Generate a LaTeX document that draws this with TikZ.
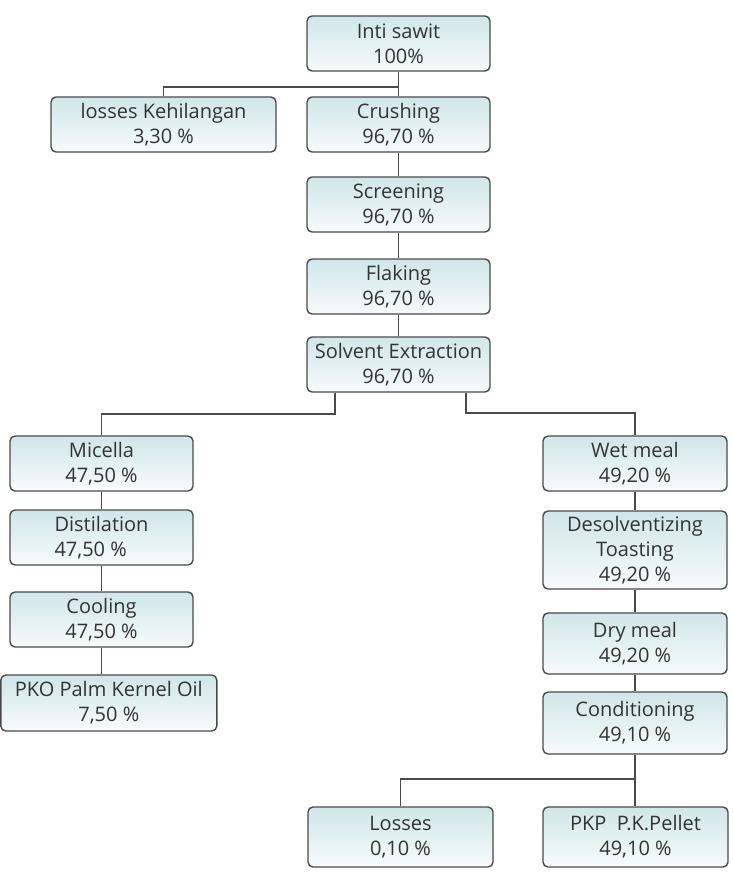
\documentclass[tikz,border=0pt]{standalone}
\usepackage{fontspec}
\setmainfont{Open Sans}
\definecolor{txt}{HTML}{333333}
\definecolor{edge}{HTML}{4A4A4A}
\definecolor{topc}{HTML}{D0E6E8}
\definecolor{botc}{HTML}{F7FBFB}
\tikzset{
  box/.style={draw=edge, line width=1.4pt, rounded corners=5pt,
    top color=topc, bottom color=botc, text=txt, align=center,
    font=\fontsize{20}{25}\selectfont, inner sep=0pt},
  link/.style={draw=edge, line width=1.8pt}
}
\begin{document}
\begin{tikzpicture}[x=1pt,y=-1pt]
\useasboundingbox (0,0) rectangle (733,878);
\node[box, minimum width=183pt, minimum height=55pt] (inti) at (398.5,43.5) {Inti sawit\\100\%};
\node[box, minimum width=225pt, minimum height=55pt] (loss1) at (163.5,124.5) {losses Kehilangan\\3,30 \%};
\node[box, minimum width=183pt, minimum height=55pt] (crush) at (398.5,124.5) {Crushing\\96,70 \%};
\node[box, minimum width=183pt, minimum height=55pt] (screen) at (398.5,204.5) {Screening\\96,70 \%};
\node[box, minimum width=183pt, minimum height=55pt] (flake) at (398.5,286.5) {Flaking\\96,70 \%};
\node[box, minimum width=183pt, minimum height=55pt] (solvent) at (398.5,364.5) {Solvent Extraction\\96,70 \%};
\node[box, minimum width=183pt, minimum height=55pt] (micella) at (101.5,463.5) {Micella\\47,50 \%};
\node[box, minimum width=183pt, minimum height=55pt, align=left] (distil) at (101.5,537.5) {Distilation\\47,50 \%};
\node[box, minimum width=183pt, minimum height=55pt] (cool) at (101.5,619.5) {Cooling\\47,50 \%};
\node[box, minimum width=216pt, minimum height=56pt] (pko) at (108.8,703) {PKO Palm Kernel Oil\\7,50 \%};
\node[box, minimum width=184pt, minimum height=55pt] (wet) at (635,463.5) {Wet meal\\49,20 \%};
\node[box, minimum width=184pt, minimum height=78pt] (desolv) at (635,550) {Desolventizing\\Toasting\\49,20 \%};
\node[box, minimum width=184pt, minimum height=61pt] (dry) at (635,643.5) {Dry meal\\49,20 \%};
\node[box, minimum width=184pt, minimum height=62pt] (cond) at (635,723) {Conditioning\\49,10 \%};
\node[box, minimum width=185pt, minimum height=60pt] (losses) at (400.5,837) {Losses\\0,10 \%};
\node[box, minimum width=185pt, minimum height=60pt] (pkp) at (635.5,837) {PKP\ \ P.K.Pellet\\49,10 \%};
\draw[link] (inti.south) -- ++(0,-15pt) -| (loss1.north);
\draw[link] (inti.south) -- (crush.north);
\draw[link] (crush.south) -- (screen.north);
\draw[link] (screen.south) -- (flake.north);
\draw[link] (flake.south) -- (solvent.north);
\draw[link] ([xshift=-63.5pt]solvent.south) -- ++(0,-21pt) -| (micella.north);
\draw[link] ([xshift=67.5pt]solvent.south) -- ++(0,-20pt) -| (wet.north);
\draw[link] (micella.south) -- (distil.north);
\draw[link] (distil.south) -- (cool.north);
\draw[link] (cool.south) -- (cool.south |- pko.north);
\draw[link] (wet.south) -- (desolv.north);
\draw[link] (desolv.south) -- (dry.north);
\draw[link] (dry.south) -- (cond.north);
\draw[link] (cond.south) -- (cond.south |- pkp.north);
\draw[link] ([yshift=-24pt]cond.south) -| (losses.north);
\end{tikzpicture}
\end{document}
